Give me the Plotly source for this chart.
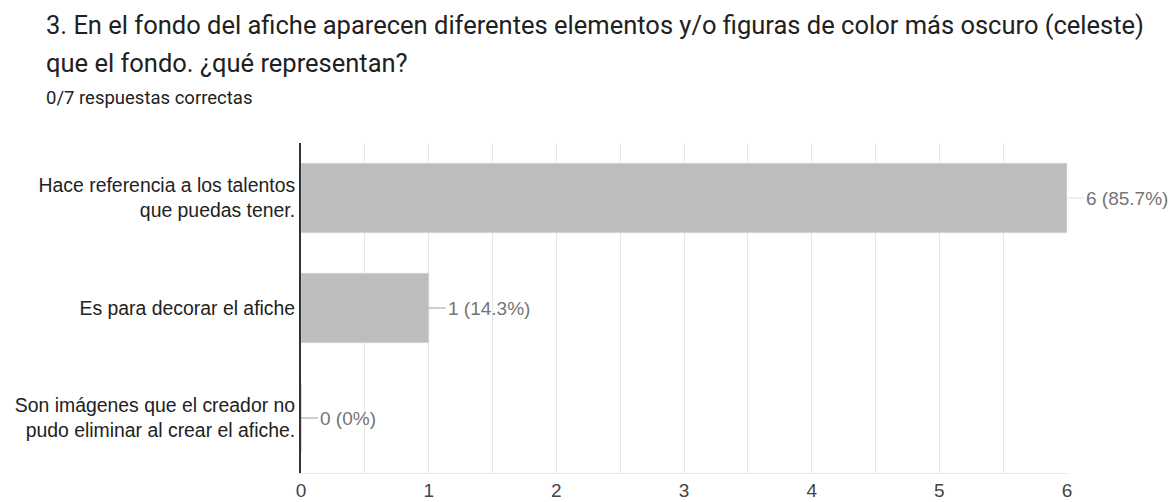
import plotly.graph_objects as go

title_lines = [
    "3. En el fondo del afiche aparecen diferentes elementos y/o figuras de color más oscuro (celeste)",
    "que el fondo. ¿qué representan?",
]
subtitle = "0/7 respuestas correctas"

categories = [
    "Hace referencia a los talentos<br>que puedas tener.",
    "Es para decorar el afiche",
    "Son imágenes que el creador no<br>pudo eliminar al crear el afiche.",
]
counts = [6, 1, 0]
percents = ["85.7%", "14.3%", "0%"]
x_ticks = [0, 1, 2, 3, 4, 5, 6]

W, H = 1172, 502
ML, MR, MT, MB = 301, 105, 143, 29
plot_w = W - ML - MR
plot_h = H - MT - MB

def px_x(px):  # page px -> paper x
    return (px - ML) / plot_w

def px_y(px):  # page px -> paper y
    return (H - MB - px) / plot_h

fig = go.Figure()
fig.add_trace(go.Bar(
    x=counts, y=categories, orientation="h",
    marker=dict(color="#bdbdbd", line=dict(color="#d3d3d3", width=1)),
    width=0.63, hoverinfo="skip",
))

annotations = []
for c, p, cat in zip(counts, percents, categories):
    at_edge = c == max(x_ticks)
    annotations.append(dict(
        x=c, y=cat, xref="x", yref="y", text=f"{c} ({p})",
        showarrow=True, arrowhead=0, arrowwidth=1,
        arrowcolor="#e0e0e0" if at_edge else "#9e9e9e",
        ax=17, ay=0, standoff=0, xanchor="left", yanchor="middle",
        font=dict(family="Liberation Sans, Arial", size=19, color="#757575"),
    ))

title_y = [25, 63]
for t, ypx in zip(title_lines, title_y):
    annotations.append(dict(
        x=px_x(44), y=px_y(ypx), xref="paper", yref="paper", text=t, showarrow=False,
        xanchor="left", yanchor="middle",
        font=dict(family="Roboto", size=25.5, color="#212121"),
    ))
annotations.append(dict(
    x=px_x(44), y=px_y(98), xref="paper", yref="paper", text=subtitle, showarrow=False,
    xanchor="left", yanchor="middle",
    font=dict(family="Roboto", size=18.5, color="#212121"),
))

fig.update_layout(
    width=W, height=H,
    margin=dict(l=ML, r=MR, t=MT, b=MB, pad=0, autoexpand=False),
    plot_bgcolor="white", paper_bgcolor="white",
    showlegend=False,
    annotations=annotations,
    bargap=0.37,
    xaxis=dict(
        range=[0, 6], tickvals=x_ticks, ticktext=[str(v) for v in x_ticks],
        showgrid=True, gridcolor="#e6e6e6", gridwidth=1,
        minor=dict(dtick=0.5, showgrid=True, gridcolor="#e6e6e6", gridwidth=1),
        zeroline=False, showline=True, linecolor="#e6e6e6", linewidth=1,
        ticks="", ticklen=0,
        tickfont=dict(family="Liberation Sans, Arial", size=19, color="#444444"),
        fixedrange=True, automargin=False,
    ),
    yaxis=dict(
        autorange="reversed", showgrid=False, zeroline=False,
        showline=True, linecolor="#333333", linewidth=2,
        ticks="",
        tickfont=dict(family="Liberation Sans, Arial", size=19.4, color="#222222"),
        fixedrange=True, automargin=False,
    ),
)

fig.write_html(
    "out.html",
    config={"displayModeBar": False},
    post_script="document.body.style.margin='0';document.body.style.overflow='hidden';",
)
